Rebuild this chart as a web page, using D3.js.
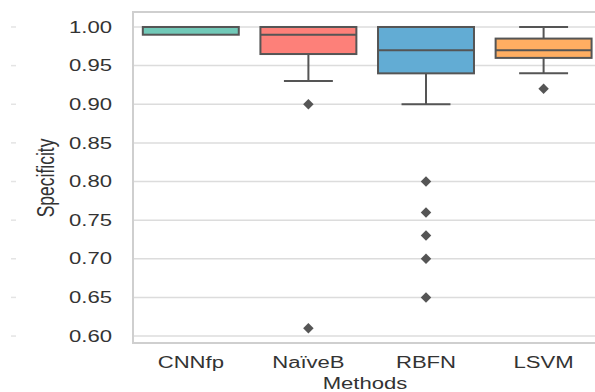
<!DOCTYPE html>
<html><head><meta charset="utf-8">
<script src="https://cdn.jsdelivr.net/npm/d3@7"></script>
<style>body{margin:0;background:#fff}svg{display:block}</style>
</head><body>
<script>
const categories = ["CNNfp", "NaïveB", "RBFN", "LSVM"];
// box stats: [whiskerLow, q1, median, q3, whiskerHigh]
const boxStats = [
  [0.99, 0.99, 1.00, 1.00, 1.00],
  [0.93, 0.965, 0.99, 1.00, 1.00],
  [0.90, 0.94, 0.97, 1.00, 1.00],
  [0.94, 0.96, 0.97, 0.985, 1.00]
];
const outliers = [
  [],
  [0.90, 0.61],
  [0.80, 0.76, 0.73, 0.70, 0.65],
  [0.92]
];
const colors = ["#71c9b8", "#fd8079", "#62acd4", "#ffae62"];
const yTicks = [0.60, 0.65, 0.70, 0.75, 0.80, 0.85, 0.90, 0.95, 1.00];

const W = 595, H = 392;
const svg = d3.select("body").append("svg").attr("width", W).attr("height", H);
const pLeft = 133, pTop = 12, pBottom = 343;
const x = d3.scaleBand().domain(categories).range([132, 602.4]).paddingInner(0).paddingOuter(0);
const y = d3.scaleLinear().domain([0.591, 1.0194]).range([pBottom, pTop]);
const font = "Liberation Sans, Arial, sans-serif";
const sx = 1.38;

// grid
svg.append("g").selectAll("line").data(yTicks).join("line")
  .attr("x1", pLeft).attr("x2", W).attr("y1", d => y(d)).attr("y2", d => y(d))
  .attr("stroke", "#dcdcdc").attr("stroke-width", 1.5);
// faint left ticks
svg.append("g").selectAll("line").data(yTicks).join("line")
  .attr("x1", 11).attr("x2", 16).attr("y1", d => y(d)).attr("y2", d => y(d))
  .attr("stroke", "#e4e4e4").attr("stroke-width", 1.5);

// frame
svg.append("path").attr("d", `M${W},${pTop}H${pLeft}V${pBottom}H${W}`)
  .attr("fill", "none").attr("stroke", "#cfcfcf").attr("stroke-width", 2);

// y axis
const yAxis = d3.axisLeft(y).tickValues(yTicks).tickFormat(d3.format(".2f")).tickSize(0);
const ga = svg.append("g").attr("transform", `translate(${pLeft},0)`).call(yAxis);
ga.select(".domain").remove();
ga.selectAll("text").attr("x", null).attr("transform", `translate(-21,0) scale(${sx},1)`)
  .attr("font-family", font).attr("font-size", 16).attr("fill", "#333");

// x axis
const xAxis = d3.axisBottom(x).tickSize(0).tickPadding(14);
const gx = svg.append("g").attr("transform", `translate(0,${pBottom})`).call(xAxis);
gx.select(".domain").remove();
gx.selectAll("text").attr("transform", `scale(${sx},1)`)
  .attr("font-family", font).attr("font-size", 16).attr("fill", "#333");

// axis titles
svg.append("text").attr("transform", `translate(365,389) scale(${sx},1)`).attr("text-anchor", "middle")
  .attr("font-family", font).attr("font-size", 16).attr("fill", "#333").text("Methods");
svg.append("text").attr("transform", `translate(54,178) rotate(-90) scale(1,${sx})`).attr("text-anchor", "middle")
  .attr("font-family", font).attr("font-size", 17.5).attr("fill", "#333").text("Specificity");

// boxes
const bw = x.bandwidth() * 0.816, cw = bw * 0.51;
const edge = "#555";
const g = svg.append("g");
categories.forEach((c, i) => {
  const cx = x(c) + x.bandwidth() / 2;
  const [lo, q1, med, q3, hi] = boxStats[i];
  const gg = g.append("g");
  if (lo < q1) {
    gg.append("line").attr("x1", cx).attr("x2", cx).attr("y1", y(q1)).attr("y2", y(lo)).attr("stroke", edge).attr("stroke-width", 2);
    gg.append("line").attr("x1", cx - cw/2).attr("x2", cx + cw/2).attr("y1", y(lo)).attr("y2", y(lo)).attr("stroke", edge).attr("stroke-width", 2);
  }
  if (hi > q3) {
    gg.append("line").attr("x1", cx).attr("x2", cx).attr("y1", y(q3)).attr("y2", y(hi)).attr("stroke", edge).attr("stroke-width", 2);
    gg.append("line").attr("x1", cx - cw/2).attr("x2", cx + cw/2).attr("y1", y(hi)).attr("y2", y(hi)).attr("stroke", edge).attr("stroke-width", 2);
  }
  gg.append("rect").attr("x", cx - bw/2).attr("width", bw).attr("y", y(q3)).attr("height", y(q1) - y(q3))
    .attr("fill", colors[i]).attr("stroke", edge).attr("stroke-width", 2);
  gg.append("line").attr("x1", cx - bw/2).attr("x2", cx + bw/2).attr("y1", y(med)).attr("y2", y(med)).attr("stroke", edge).attr("stroke-width", 2);
  gg.selectAll("path.o").data(outliers[i]).join("path").attr("class", "o")
    .attr("d", d3.symbol(d3.symbolDiamond2, 70)())
    .attr("transform", d => `translate(${cx},${y(d)})`)
    .attr("fill", "#555");
});
</script>
</body></html>
